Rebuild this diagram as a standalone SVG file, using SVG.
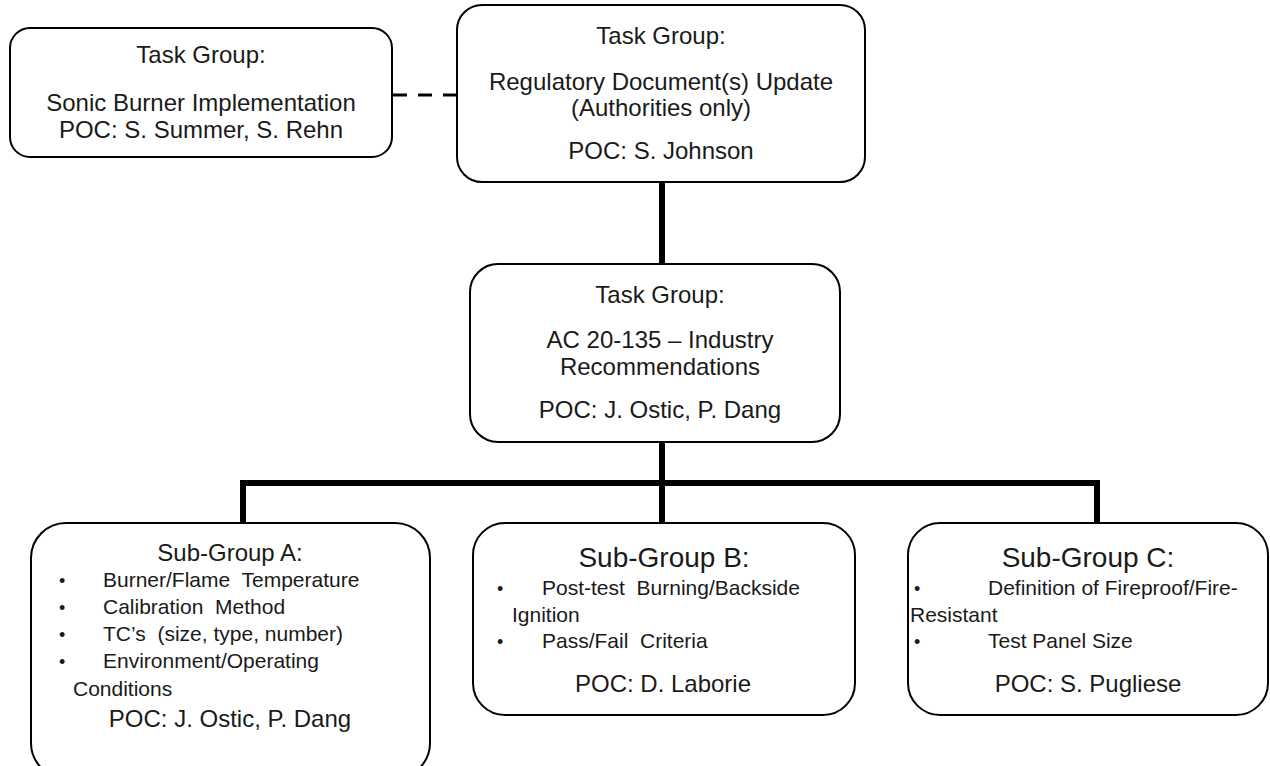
<svg xmlns="http://www.w3.org/2000/svg" width="1270" height="766" viewBox="0 0 1270 766">
<style>
.box{fill:#fff;stroke:#000;stroke-width:2}
.t{font-family:"Liberation Sans",Arial,sans-serif;font-size:24px;fill:#1a1a1a}
.c{text-anchor:middle}
.s{font-size:21px;white-space:pre}
.b{font-size:18px}
.h{font-size:28px}
.con{stroke:#000;stroke-width:6;fill:none}
.dash{stroke:#000;stroke-width:3;stroke-dasharray:14 11;fill:none}
</style>
<rect width="1270" height="766" fill="#fff"/>
<g id="connectors">
<line class="dash" x1="393" y1="95" x2="457" y2="95"/>
<line class="con" x1="662" y1="182" x2="662" y2="264"/>
<line class="con" x1="662" y1="442" x2="662" y2="523"/>
<polyline class="con" points="243,523 243,483 1097,483 1097,523"/>
</g>
<g id="sonic">
<rect class="box" x="10" y="28" width="382" height="129" rx="20"/>
<text class="t c" x="201" y="63">Task Group:</text>
<text class="t c" x="201" y="111">Sonic Burner Implementation</text>
<text class="t c" x="201" y="138">POC: S. Summer, S. Rehn</text>
</g>
<g id="regulatory">
<rect class="box" x="457" y="5" width="408" height="177" rx="25"/>
<text class="t c" x="661" y="44">Task Group:</text>
<text class="t c" x="661" y="90">Regulatory Document(s) Update</text>
<text class="t c" x="661" y="116">(Authorities only)</text>
<text class="t c" x="661" y="159">POC: S. Johnson</text>
</g>
<g id="ac20135">
<rect class="box" x="470" y="264" width="370" height="178" rx="28"/>
<text class="t c" x="660" y="303">Task Group:</text>
<text class="t c" x="660" y="348">AC 20-135 – Industry</text>
<text class="t c" x="660" y="375">Recommendations</text>
<text class="t c" x="660" y="418">POC: J. Ostic, P. Dang</text>
</g>
<g id="subA">
<rect class="box" x="31" y="523" width="399" height="255" rx="35"/>
<text class="t c" x="230" y="561">Sub-Group A:</text>
<text class="t b" x="59" y="587">•</text>
<text class="t s" x="103" y="587" xml:space="preserve">Burner/Flame  Temperature</text>
<text class="t b" x="59" y="614">•</text>
<text class="t s" x="103" y="614" xml:space="preserve">Calibration  Method</text>
<text class="t b" x="59" y="641">•</text>
<text class="t s" x="103" y="641" xml:space="preserve">TC’s  (size, type, number)</text>
<text class="t b" x="59" y="668">•</text>
<text class="t s" x="103" y="668">Environment/Operating</text>
<text class="t s" x="73" y="696">Conditions</text>
<text class="t c" x="230" y="727">POC: J. Ostic, P. Dang</text>
</g>
<g id="subB">
<rect class="box" x="473" y="523" width="382" height="192" rx="32"/>
<text class="t c h" x="664" y="567">Sub-Group B:</text>
<text class="t b" x="497" y="595">•</text>
<text class="t s" x="542" y="595" xml:space="preserve">Post-test  Burning/Backside</text>
<text class="t s" x="512" y="622">Ignition</text>
<text class="t b" x="497" y="648">•</text>
<text class="t s" x="542" y="648" xml:space="preserve">Pass/Fail  Criteria</text>
<text class="t c" x="663" y="692">POC: D. Laborie</text>
</g>
<g id="subC">
<rect class="box" x="908" y="523" width="360" height="192" rx="32"/>
<text class="t c h" x="1088" y="567">Sub-Group C:</text>
<text class="t b" x="914" y="595">•</text>
<text class="t s" x="988" y="595">Definition of Fireproof/Fire-</text>
<text class="t s" x="910" y="622">Resistant</text>
<text class="t b" x="914" y="648">•</text>
<text class="t s" x="988" y="648">Test Panel Size</text>
<text class="t c" x="1088" y="692">POC: S. Pugliese</text>
</g>
</svg>
